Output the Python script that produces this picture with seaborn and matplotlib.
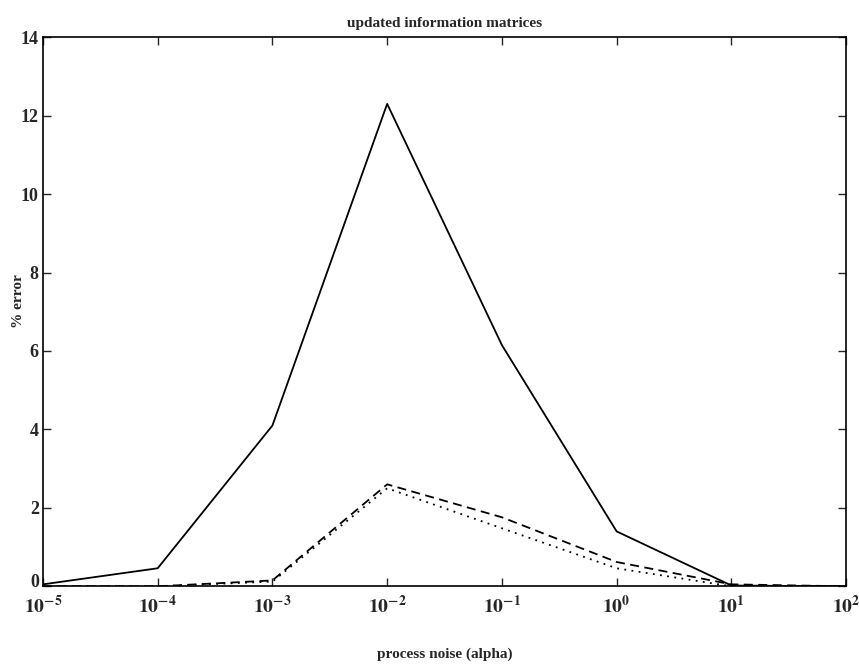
import numpy as np
import pandas as pd
import matplotlib
matplotlib.use("Agg")
import matplotlib.pyplot as plt
import matplotlib.transforms as mtransforms
import seaborn as sns

alpha = [1e-5, 1e-4, 1e-3, 1e-2, 1e-1, 1e0, 1e1, 1e2]
err_solid = [0.05, 0.46, 4.1, 12.3, 6.15, 1.4, 0.02, 0.0]
err_dashed = [0.0, 0.0, 0.15, 2.6, 1.76, 0.62, 0.05, 0.0]
err_dotted = [0.0, 0.0, 0.12, 2.5, 1.48, 0.46, 0.0, 0.0]
x_tick_labels = [r"$\mathbf{10^{-5}}$", r"$\mathbf{10^{-4}}$", r"$\mathbf{10^{-3}}$",
                 r"$\mathbf{10^{-2}}$", r"$\mathbf{10^{-1}}$", r"$\mathbf{10^{0}}$",
                 r"$\mathbf{10^{1}}$", r"$\mathbf{10^{2}}$"]

df = pd.DataFrame({
    "alpha": alpha * 3,
    "error": err_solid + err_dashed + err_dotted,
    "series": ["a"] * 8 + ["b"] * 8 + ["c"] * 8,
})

sns.set_style("ticks")
plt.rcParams["font.family"] = ["Liberation Serif", "DejaVu Serif"]
plt.rcParams["font.weight"] = "bold"
plt.rcParams["mathtext.fontset"] = "stix"

fig = plt.figure(figsize=(8.59, 6.64), dpi=100)
ax = fig.add_axes([0.050, 0.117, 0.935, 0.827])

sns.lineplot(data=df, x="alpha", y="error", style="series",
             dashes={"a": "", "b": (5, 3), "c": (1, 3)},
             color="black", linewidth=1.3, legend=False, ax=ax)

ax.set_xscale("log")
ax.set_xlim(1e-5, 1e2)
ax.set_ylim(0, 14)
ax.set_xticks(alpha)
ax.set_xticklabels(x_tick_labels, fontsize=14)
ax.xaxis.set_minor_locator(matplotlib.ticker.NullLocator())
ax.set_yticks(np.arange(0, 15, 2))
ax.set_yticklabels([str(v) for v in range(0, 15, 2)], fontsize=13, fontweight="bold")
ax.tick_params(direction="in", top=True, right=True, length=6, width=1, pad=3)
ax.tick_params(axis="x", pad=6)
for s in ax.spines.values():
    s.set_linewidth(1.2)
    s.set_color("black")

# lift the "0" a little so it sits clear of 10^-5
zero_lbl = ax.get_yticklabels()[0]
zero_lbl.set_transform(zero_lbl.get_transform() +
                       mtransforms.ScaledTranslation(0, 4 / 72, fig.dpi_scale_trans))

ax.set_title("updated information matrices", fontsize=11, fontweight="bold", pad=7)
ax.set_xlabel("process noise (alpha)", fontsize=11, fontweight="bold", labelpad=22)
ax.set_ylabel("% error", fontsize=11, fontweight="bold")
ax.yaxis.set_label_coords(-0.022, 0.52)

fig.savefig("out.png", dpi=100)
